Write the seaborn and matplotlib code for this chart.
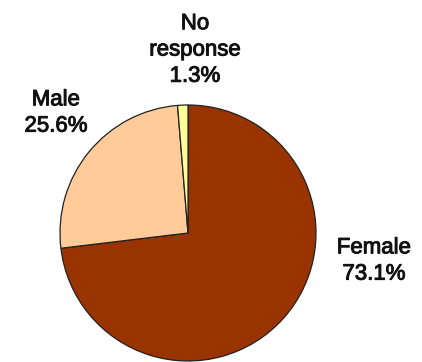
import matplotlib
matplotlib.use("Agg")
import matplotlib.pyplot as plt
import matplotlib.patheffects as pe
import seaborn as sns

# Survey respondents by gender
categories = ["Female", "Male", "No response"]
shares = [73.1, 25.6, 1.3]
label_lines = ["Female\n73.1%", "Male\n25.6%", "No\nresponse\n1.3%"]
colors = ["#993300", "#FFCC99", "#FFFF99"]

sns.set_theme(style="white")
plt.rcParams["font.family"] = ["Liberation Sans", "DejaVu Sans"]

W, H = 422, 362
fig = plt.figure(figsize=(W / 100, H / 100), dpi=100)
ax = fig.add_axes([0, 0, 1, 1])

center = (188, H - 233)
radius = 128
ax.pie(shares, colors=colors, startangle=90, counterclock=False,
       center=center, radius=radius, frame=True,
       wedgeprops=dict(edgecolor="#222222", linewidth=0.9))
ax.set_xlim(0, W)
ax.set_ylim(0, H)
ax.set_aspect("equal")
ax.axis("off")

# label anchors (x, y of label block centre)
label_pos = [(374, H - 261), (56, H - 113), (195, H - 50)]
for text, (x, y) in zip(label_lines, label_pos):
    ax.text(x, y, text, ha="center", va="center", fontsize=16,
            linespacing=1.33, color="#111111",
            path_effects=[pe.withStroke(linewidth=0.7, foreground="#111111")])

fig.savefig("out.png", dpi=100, facecolor="white")
